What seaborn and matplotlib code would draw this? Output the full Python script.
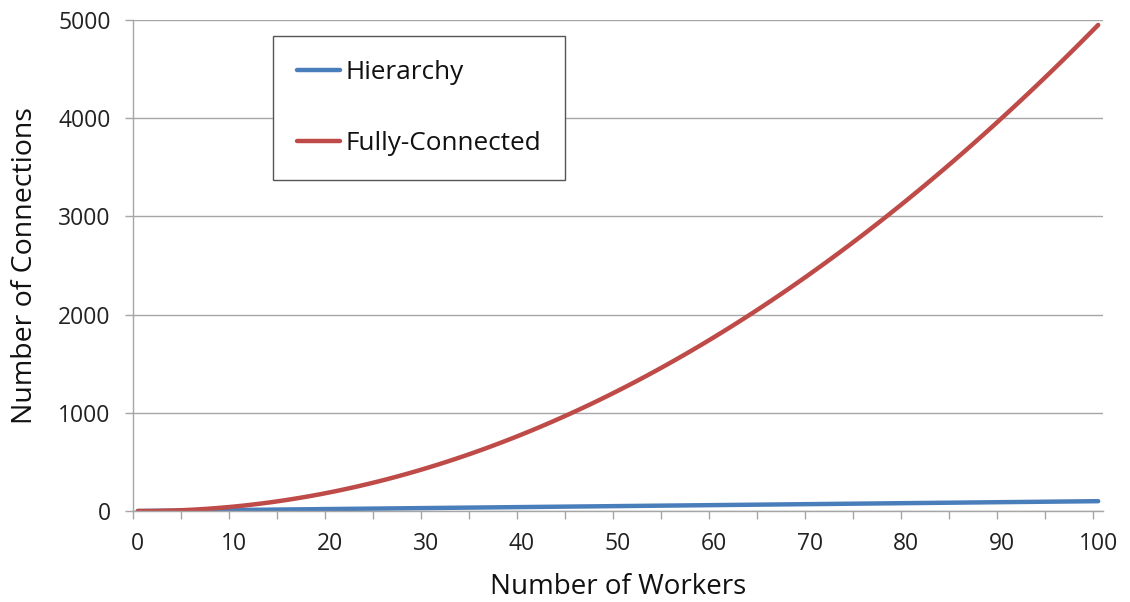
import matplotlib
matplotlib.use("Agg")
import matplotlib.pyplot as plt
import seaborn as sns
import pandas as pd
from matplotlib.ticker import MultipleLocator, FixedLocator

workers = [0, 1, 2, 3, 4, 5, 6, 7, 8, 9, 10,
           11, 12, 13, 14, 15, 16, 17, 18, 19, 20,
           21, 22, 23, 24, 25, 26, 27, 28, 29, 30,
           31, 32, 33, 34, 35, 36, 37, 38, 39, 40,
           41, 42, 43, 44, 45, 46, 47, 48, 49, 50,
           51, 52, 53, 54, 55, 56, 57, 58, 59, 60,
           61, 62, 63, 64, 65, 66, 67, 68, 69, 70,
           71, 72, 73, 74, 75, 76, 77, 78, 79, 80,
           81, 82, 83, 84, 85, 86, 87, 88, 89, 90,
           91, 92, 93, 94, 95, 96, 97, 98, 99, 100]

hierarchy = [0, 1, 2, 3, 4, 5, 6, 7, 8, 9, 10,
             11, 12, 13, 14, 15, 16, 17, 18, 19, 20,
             21, 22, 23, 24, 25, 26, 27, 28, 29, 30,
             31, 32, 33, 34, 35, 36, 37, 38, 39, 40,
             41, 42, 43, 44, 45, 46, 47, 48, 49, 50,
             51, 52, 53, 54, 55, 56, 57, 58, 59, 60,
             61, 62, 63, 64, 65, 66, 67, 68, 69, 70,
             71, 72, 73, 74, 75, 76, 77, 78, 79, 80,
             81, 82, 83, 84, 85, 86, 87, 88, 89, 90,
             91, 92, 93, 94, 95, 96, 97, 98, 99, 100]

fully_connected = [0, 0, 1, 3, 6, 10, 15, 21, 28, 36, 45,
                   55, 66, 78, 91, 105, 120, 136, 153, 171, 190,
                   210, 231, 253, 276, 300, 325, 351, 378, 406, 435,
                   465, 496, 528, 561, 595, 630, 666, 703, 741, 780,
                   820, 861, 903, 946, 990, 1035, 1081, 1128, 1176, 1225,
                   1275, 1326, 1378, 1431, 1485, 1540, 1596, 1653, 1711, 1770,
                   1830, 1891, 1953, 2016, 2080, 2145, 2211, 2278, 2346, 2415,
                   2485, 2556, 2628, 2701, 2775, 2850, 2926, 3003, 3081, 3160,
                   3240, 3321, 3403, 3486, 3570, 3655, 3741, 3828, 3916, 4005,
                   4095, 4186, 4278, 4371, 4465, 4560, 4656, 4753, 4851, 4950]

x_tick_labels = ["0", "10", "20", "30", "40", "50", "60", "70", "80", "90", "100"]
series_names = ["Hierarchy", "Fully-Connected"]
colors = ["#4A7EBB", "#BE4B48"]

df = pd.concat([
    pd.DataFrame({"Workers": workers, "Connections": hierarchy, "Series": series_names[0]}),
    pd.DataFrame({"Workers": workers, "Connections": fully_connected, "Series": series_names[1]}),
])

sns.set_style("white")
plt.rcParams["font.family"] = ["Open Sans", "DejaVu Sans"]

fig = plt.figure(figsize=(11.3, 6.02), dpi=100)
ax = fig.add_axes([133 / 1130, 1 - 511 / 602, 970 / 1130, 491 / 602])

sns.lineplot(data=df, x="Workers", y="Connections", hue="Series",
             palette=dict(zip(series_names, colors)), linewidth=3.2,
             ax=ax, legend=True)
for ln in ax.get_lines():
    ln.set_solid_capstyle("round")

# category-style axis: each worker count occupies one slot
ax.set_xlim(-0.5, 100.5)
ax.set_ylim(0, 5000)
ax.xaxis.set_major_locator(FixedLocator([int(t) for t in x_tick_labels]))
ax.set_xticklabels(x_tick_labels)
ax.xaxis.set_minor_locator(FixedLocator([-0.5 + 5 * k for k in range(21)]))
ax.yaxis.set_major_locator(MultipleLocator(1000))
ax.yaxis.grid(True, color="#A6A6A6", linewidth=1.0)
ax.set_axisbelow(True)

for s in ["top", "right"]:
    ax.spines[s].set_visible(False)
for s in ["left", "bottom"]:
    ax.spines[s].set_color("#A6A6A6")
    ax.spines[s].set_linewidth(1.0)

ax.tick_params(axis="x", which="major", length=0, pad=15, labelsize=16.5,
               labelcolor="#222222", bottom=True)
ax.tick_params(axis="x", which="minor", direction="out", length=6, width=1.0,
               color="#A6A6A6", bottom=True)
ax.tick_params(axis="y", which="major", direction="out", length=6, width=1.0,
               color="#A6A6A6", pad=10, labelsize=16.5, labelcolor="#222222", left=True)

ax.set_xlabel("Number of Workers", fontsize=20, color="#111111", labelpad=12)
ax.set_ylabel("Number of Connections", fontsize=20.5, color="#111111", labelpad=14)

leg = ax.legend(loc="upper left", bbox_to_anchor=(273 / 1130, 1 - 36 / 602),
                bbox_transform=fig.transFigure, frameon=True,
                fancybox=False, fontsize=18.8, handlelength=1.65, handletextpad=0.18,
                labelspacing=1.75, borderpad=0.93, borderaxespad=0, title=None)
leg.get_frame().set_edgecolor("#555555")
leg.get_frame().set_linewidth(1.0)
leg.get_frame().set_facecolor("white")
leg.get_frame().set_alpha(1.0)
for h in leg.get_lines():
    h.set_linewidth(3.2)
for t in leg.get_texts():
    t.set_color("#111111")

fig.savefig("out.png", dpi=100)
